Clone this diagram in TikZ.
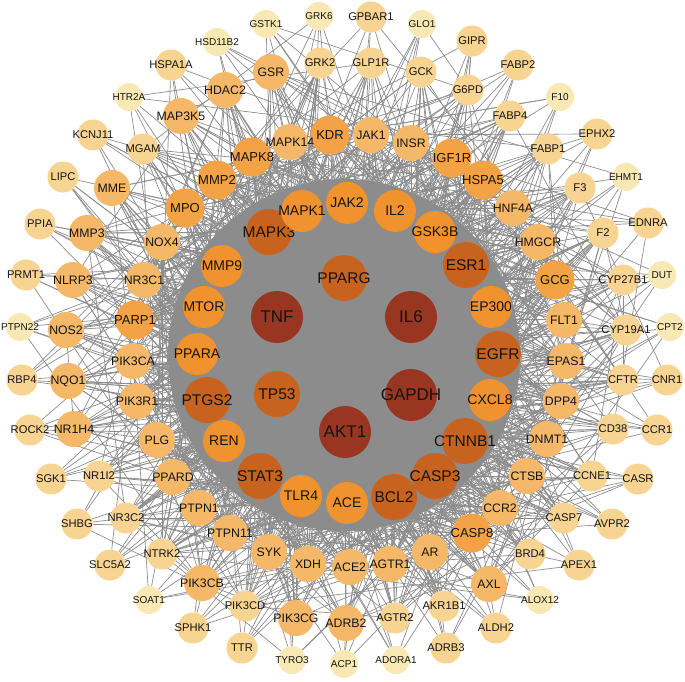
\documentclass[tikz,border=0pt]{standalone}
\usepackage{fontspec}
\setmainfont{Liberation Sans}
\pgfdeclarelayer{bg}
\pgfsetlayers{bg,main}
\definecolor{c1}{RGB}{152,54,33}
\definecolor{c2}{RGB}{199,98,31}
\definecolor{c3}{RGB}{240,146,46}
\definecolor{c4}{RGB}{243,162,70}
\definecolor{c5}{RGB}{244,184,104}
\definecolor{c6}{RGB}{247,212,146}
\definecolor{c7}{RGB}{248,233,180}
\definecolor{ec}{RGB}{140,140,140}
\definecolor{tc}{RGB}{20,20,20}
\newcommand{\mb}[1]{\makebox[0pt][c]{#1}}
\tikzset{
 gn/.style={circle, draw=none, inner sep=0pt, text=tc},
 t1/.style={gn, fill=c1, minimum size=52pt, font=\fontsize{17}{17}\selectfont},
 t2/.style={gn, fill=c2, minimum size=46pt, font=\fontsize{15.5}{15.5}\selectfont},
 t3/.style={gn, fill=c3, minimum size=42pt, font=\fontsize{14}{14}\selectfont},
 t4/.style={gn, fill=c4, minimum size=39pt, font=\fontsize{13}{13}\selectfont},
 t5/.style={gn, fill=c5, minimum size=36pt, font=\fontsize{12.3}{12.3}\selectfont},
 t6/.style={gn, fill=c6, minimum size=31pt, font=\fontsize{11.2}{11.2}\selectfont},
 t7/.style={gn, fill=c7, minimum size=28pt, font=\fontsize{10}{10}\selectfont},
 edge/.style={draw=ec, line width=0.7pt}
}
\begin{document}
\begin{tikzpicture}[x=1pt,y=-1pt]
\useasboundingbox (0,0) rectangle (685,681);
% core
\node[t1,alias=n1] (TNF) at (277,317) {\mb{TNF}};
\node[t1,alias=n2] (IL6) at (411,317) {\mb{IL6}};
\node[t1,alias=n3] (GAPDH) at (411,395) {\mb{GAPDH}};
\node[t1,alias=n4] (AKT1) at (345,432) {\mb{AKT1}};
\node[t2,alias=n5] (PPARG) at (344,278) {\mb{PPARG}};
\node[t2,alias=n6] (TP53) at (277,394) {\mb{TP53}};
% ring 2
\node[t2,alias=n7] (MAPK3) at (269,232) {\mb{MAPK3}};
\node[t3,alias=n8] (MAPK1) at (302,211) {\mb{MAPK1}};
\node[t3,alias=n9] (JAK2) at (347,203) {\mb{JAK2}};
\node[t3,alias=n10] (IL2) at (395,211) {\mb{IL2}};
\node[t3,alias=n11] (GSK3B) at (435,232) {\mb{GSK3B}};
\node[t2,alias=n12] (ESR1) at (466,265) {\mb{ESR1}};
\node[t3,alias=n13] (EP300) at (491,307) {\mb{EP300}};
\node[t2,alias=n14] (EGFR) at (498,354) {\mb{EGFR}};
\node[t3,alias=n15] (CXCL8) at (490,400) {\mb{CXCL8}};
\node[t2,alias=n16] (CTNNB1) at (465,441) {\mb{CTNNB1}};
\node[t2,alias=n17] (CASP3) at (435,476) {\mb{CASP3}};
\node[t2,alias=n18] (BCL2) at (394,497) {\mb{BCL2}};
\node[t3,alias=n19] (ACE) at (347,503) {\mb{ACE}};
\node[t3,alias=n20] (TLR4) at (301,496) {\mb{TLR4}};
\node[t2,alias=n21] (STAT3) at (260,476) {\mb{STAT3}};
\node[t3,alias=n22] (REN) at (224,441) {\mb{REN}};
\node[t2,alias=n23] (PTGS2) at (207,400) {\mb{PTGS2}};
\node[t3,alias=n24] (PPARA) at (197,354) {\mb{PPARA}};
\node[t3,alias=n25] (MTOR) at (204,307) {\mb{MTOR}};
\node[t3,alias=n26] (MMP9) at (222,266) {\mb{MMP9}};
% ring 3
\node[t4,alias=n27] (KDR) at (330,135) {\mb{KDR}};
\node[t5,alias=n28] (JAK1) at (371,135) {\mb{JAK1}};
\node[t5,alias=n29] (INSR) at (411,143) {\mb{INSR}};
\node[t4,alias=n30] (IGF1R) at (452,158) {\mb{IGF1R}};
\node[t4,alias=n31] (HSPA5) at (483,180) {\mb{HSPA5}};
\node[t5,alias=n32] (HNF4A) at (513,208) {\mb{HNF4A}};
\node[t5,alias=n33] (HMGCR) at (538,242) {\mb{HMGCR}};
\node[t4,alias=n34] (GCG) at (555,280) {\mb{GCG}};
\node[t5,alias=n35] (FLT1) at (564,320) {\mb{FLT1}};
\node[t5,alias=n36] (EPAS1) at (566,361) {\mb{EPAS1}};
\node[t5,alias=n37] (DPP4) at (561,401) {\mb{DPP4}};
\node[t5,alias=n38] (DNMT1) at (547,439) {\mb{DNMT1}};
\node[t5,alias=n39] (CTSB) at (527,476) {\mb{CTSB}};
\node[t5,alias=n40] (CCR2) at (500,508) {\mb{CCR2}};
\node[t4,alias=n41] (CASP8) at (472,533) {\mb{CASP8}};
\node[t5,alias=n42] (AR) at (430,552) {\mb{AR}};
\node[t5,alias=n43] (AGTR1) at (390,564) {\mb{AGTR1}};
\node[t5,alias=n44] (ACE2) at (350,567) {\mb{ACE2}};
\node[t5,alias=n45] (XDH) at (308,564) {\mb{XDH}};
\node[t5,alias=n46] (SYK) at (269,552) {\mb{SYK}};
\node[t5,alias=n47] (PTPN11) at (230,533) {\mb{PTPN11}};
\node[t5,alias=n48] (PTPN1) at (199,508) {\mb{PTPN1}};
\node[t5,alias=n49] (PPARD) at (173,477) {\mb{PPARD}};
\node[t5,alias=n50] (PLG) at (157,440) {\mb{PLG}};
\node[t5,alias=n51] (PIK3R1) at (137,401) {\mb{PIK3R1}};
\node[t5,alias=n52] (PIK3CA) at (133,361) {\mb{PIK3CA}};
\node[t4,alias=n53] (PARP1) at (135,320) {\mb{PARP1}};
\node[t5,alias=n54] (NR3C1) at (144,280) {\mb{NR3C1}};
\node[t5,alias=n55] (NOX4) at (162,242) {\mb{NOX4}};
\node[t4,alias=n56] (MPO) at (185,208) {\mb{MPO}};
\node[t4,alias=n57] (MMP2) at (217,180) {\mb{MMP2}};
\node[t4,alias=n58] (MAPK8) at (252,157) {\mb{MAPK8}};
\node[t5,alias=n59] (MAPK14) at (290,142) {\mb{MAPK14}};
% ring 4
\node[t5,alias=n60] (GSR) at (271,72) {\mb{GSR}};
\node[t6,alias=n61] (GRK2) at (320,63) {\mb{GRK2}};
\node[t6,alias=n62] (GLP1R) at (371,63) {\mb{GLP1R}};
\node[t6,alias=n63] (GCK) at (421,72) {\mb{GCK}};
\node[t6,alias=n64] (G6PD) at (468,90) {\mb{G6PD}};
\node[t6,alias=n65] (FABP4) at (510,116) {\mb{FABP4}};
\node[t6,alias=n66] (FABP1) at (548,149) {\mb{FABP1}};
\node[t6,alias=n67] (F3) at (580,188) {\mb{F3}};
\node[t6,alias=n68] (F2) at (603,233) {\mb{F2}};
\node[t6,alias=n69] (CYP27B1) at (623,280) {\mb{CYP27B1}};
\node[t6,alias=n70] (CYP19A1) at (626,330) {\mb{CYP19A1}};
\node[t6,alias=n71] (CFTR) at (623,380) {\mb{CFTR}};
\node[t6,alias=n72] (CD38) at (613,429) {\mb{CD38}};
\node[t6,alias=n73] (CCNE1) at (592,476) {\mb{CCNE1}};
\node[t6,alias=n74] (CASP7) at (564,518) {\mb{CASP7}};
\node[t6,alias=n75] (BRD4) at (530,554) {\mb{BRD4}};
\node[t5,alias=n76] (AXL) at (489,584) {\mb{AXL}};
\node[t6,alias=n77] (AKR1B1) at (444,606) {\mb{AKR1B1}};
\node[t6,alias=n78] (AGTR2) at (395,618) {\mb{AGTR2}};
\node[t5,alias=n79] (ADRB2) at (346,623) {\mb{ADRB2}};
\node[t5,alias=n80] (PIK3CG) at (296,618) {\mb{PIK3CG}};
\node[t6,alias=n81] (PIK3CD) at (245,606) {\mb{PIK3CD}};
\node[t5,alias=n82] (PIK3CB) at (202,583) {\mb{PIK3CB}};
\node[t6,alias=n83] (NTRK2) at (162,554) {\mb{NTRK2}};
\node[t6,alias=n84] (NR3C2) at (126,518) {\mb{NR3C2}};
\node[t6,alias=n85] (NR1I2) at (99,476) {\mb{NR1I2}};
\node[t5,alias=n86] (NR1H4) at (74,429) {\mb{NR1H4}};
\node[t5,alias=n87] (NQO1) at (68,381) {\mb{NQO1}};
\node[t5,alias=n88] (NOS2) at (66,330) {\mb{NOS2}};
\node[t5,alias=n89] (NLRP3) at (73,280) {\mb{NLRP3}};
\node[t5,alias=n90] (MMP3) at (87,233) {\mb{MMP3}};
\node[t5,alias=n91] (MME) at (112,188) {\mb{MME}};
\node[t6,alias=n92] (MGAM) at (143,149) {\mb{MGAM}};
\node[t5,alias=n93] (MAP3K5) at (181,116) {\mb{MAP3K5}};
\node[t5,alias=n94] (HDAC2) at (225,90) {\mb{HDAC2}};
% ring 5
\node[t7,alias=n95] (GSTK1) at (266,24) {\mb{GSTK1}};
\node[t7,alias=n96] (GRK6) at (319,16) {\mb{GRK6}};
\node[t6,alias=n97] (GPBAR1) at (371,17) {\mb{GPBAR1}};
\node[t7,alias=n98] (GLO1) at (422,24) {\mb{GLO1}};
\node[t6,alias=n99] (GIPR) at (472,41) {\mb{GIPR}};
\node[t6,alias=n100] (FABP2) at (518,65) {\mb{FABP2}};
\node[t7,alias=n101] (F10) at (560,97) {\mb{F10}};
\node[t6,alias=n102] (EPHX2) at (597,134) {\mb{EPHX2}};
\node[t7,alias=n103] (EHMT1) at (626,177) {\mb{EHMT1}};
\node[t6,alias=n104] (EDNRA) at (648,223) {\mb{EDNRA}};
\node[t7,alias=n105] (DUT) at (662,275) {\mb{DUT}};
\node[t7,alias=n106] (CPT2) at (670,327) {\mb{CPT2}};
\node[t6,alias=n107] (CNR1) at (667,380) {\mb{CNR1}};
\node[t6,alias=n108] (CCR1) at (657,430) {\mb{CCR1}};
\node[t6,alias=n109] (CASR) at (638,479) {\mb{CASR}};
\node[t6,alias=n110] (AVPR2) at (612,524) {\mb{AVPR2}};
\node[t6,alias=n111] (APEX1) at (579,565) {\mb{APEX1}};
\node[t7,alias=n112] (ALOX12) at (540,600) {\mb{ALOX12}};
\node[t6,alias=n113] (ALDH2) at (496,628) {\mb{ALDH2}};
\node[t6,alias=n114] (ADRB3) at (446,648) {\mb{ADRB3}};
\node[t7,alias=n115] (ADORA1) at (396,660) {\mb{ADORA1}};
\node[t7,alias=n116] (ACP1) at (344,664) {\mb{ACP1}};
\node[t7,alias=n117] (TYRO3) at (292,660) {\mb{TYRO3}};
\node[t6,alias=n118] (TTR) at (242,648) {\mb{TTR}};
\node[t6,alias=n119] (SPHK1) at (193,628) {\mb{SPHK1}};
\node[t7,alias=n120] (SOAT1) at (149,600) {\mb{SOAT1}};
\node[t6,alias=n121] (SLC5A2) at (110,565) {\mb{SLC5A2}};
\node[t6,alias=n122] (SHBG) at (77,524) {\mb{SHBG}};
\node[t6,alias=n123] (SGK1) at (51,479) {\mb{SGK1}};
\node[t6,alias=n124] (ROCK2) at (30,430) {\mb{ROCK2}};
\node[t6,alias=n125] (RBP4) at (22,380) {\mb{RBP4}};
\node[t7,alias=n126] (PTPN22) at (20,327) {\mb{PTPN22}};
\node[t6,alias=n127] (PRMT1) at (26,275) {\mb{PRMT1}};
\node[t6,alias=n128] (PPIA) at (40,224) {\mb{PPIA}};
\node[t6,alias=n129] (LIPC) at (63,177) {\mb{LIPC}};
\node[t6,alias=n130] (KCNJ11) at (93,135) {\mb{KCNJ11}};
\node[t7,alias=n131] (HTR2A) at (129,97) {\mb{HTR2A}};
\node[t6,alias=n132] (HSPA1A) at (171,65) {\mb{HSPA1A}};
\node[t7,alias=n133] (HSD11B2) at (217,42) {\mb{HSD11B2}};

\begin{pgfonlayer}{bg}
\fill[ec] (344,355) circle (176);
\pgfmathsetseed{12}
\foreach \i in {1,...,25}{
  \pgfmathtruncatemacro{\s}{\i+1}
  \foreach \j in {\s,...,26}{\draw[edge] (n\i) -- (n\j);}
}
\foreach \i in {27,...,59}{
  \foreach \j in {1,...,6}{\draw[edge] (n\i) -- (n\j);}
  \foreach \k in {1,...,8}{
    \pgfmathrandominteger{\r}{7}{26}
    \draw[edge] (n\i) -- (n\r);}
  \foreach \k in {1,...,4}{
    \pgfmathrandominteger{\r}{1}{32}
    \pgfmathtruncatemacro{\q}{27+mod(\i-27+\r,33)}
    \draw[edge] (n\i) -- (n\q);}
}
\foreach \i in {60,...,94}{
  \foreach \k in {1,...,4}{
    \pgfmathrandominteger{\r}{1}{6}
    \draw[edge] (n\i) -- (n\r);}
  \foreach \k in {1,...,5}{
    \pgfmathrandominteger{\r}{7}{26}
    \draw[edge] (n\i) -- (n\r);}
  \foreach \k in {1,...,4}{
    \pgfmathrandominteger{\r}{27}{59}
    \draw[edge] (n\i) -- (n\r);}
  \pgfmathrandominteger{\r}{1}{34}
  \pgfmathtruncatemacro{\q}{60+mod(\i-60+\r,35)}
  \draw[edge] (n\i) -- (n\q);
}
\foreach \i in {95,...,133}{
  \foreach \k in {1,2,3}{
    \pgfmathrandominteger{\r}{1}{26}
    \draw[edge] (n\i) -- (n\r);}
  \foreach \k in {1,...,3}{
    \pgfmathrandominteger{\r}{27}{94}
    \draw[edge] (n\i) -- (n\r);}
}
\end{pgfonlayer}
\end{tikzpicture}
\end{document}
